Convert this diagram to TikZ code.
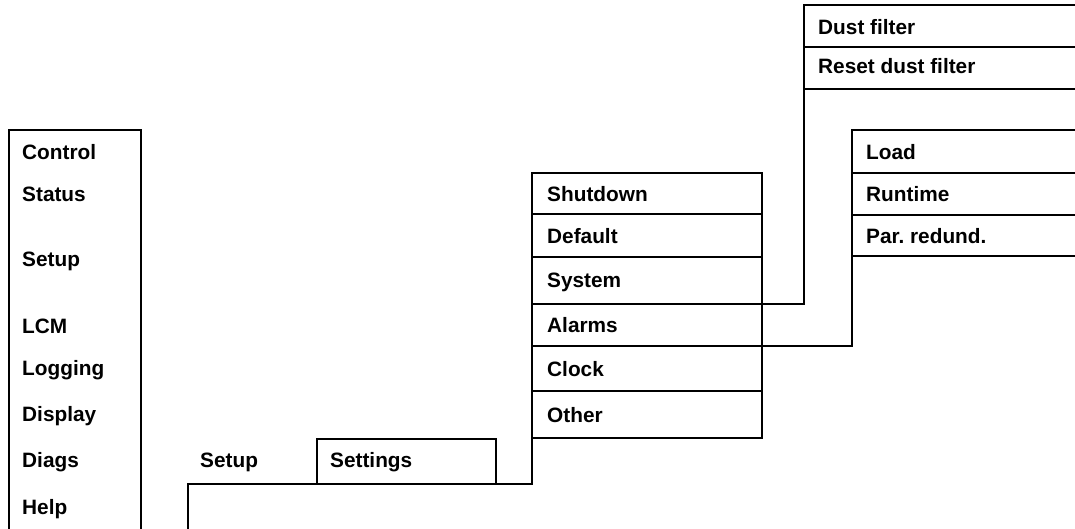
\documentclass[tikz,border=0pt]{standalone}
\usepackage{fontspec}
\setmainfont{Liberation Sans}
\frenchspacing
\begin{document}
\begin{tikzpicture}[x=1pt,y=-1pt,
  menuline/.style={line width=2pt, line join=miter},
  lbl/.style={anchor=base west, inner sep=0pt, font=\fontsize{20.8}{25}\selectfont\bfseries}]
\useasboundingbox (0,0) rectangle (1075,528);
% coordinates
\coordinate (mainBL) at (9,529);
\coordinate (mainTL) at (9,130);
\coordinate (mainTR) at (141,130);
\coordinate (mainBR) at (141,529);
\coordinate (setBL) at (317,484);
\coordinate (setTL) at (317,439);
\coordinate (setTR) at (496,439);
\coordinate (setBR) at (496,484);
\coordinate (baseS) at (188,529);
\coordinate (baseC) at (188,484);
\coordinate (colB) at (532,484);
\coordinate (colTL) at (532,173);
\coordinate (colTR) at (762,173);
\coordinate (colBR) at (762,438);
\coordinate (colBL) at (532,438);
\coordinate (sysR) at (762,304);
\coordinate (sysK) at (804,304);
\coordinate (dustT) at (804,5);
\coordinate (dustE) at (1076,5);
\coordinate (almR) at (762,346);
\coordinate (almK) at (852,346);
\coordinate (loadT) at (852,130);
\coordinate (loadE) at (1076,130);

% main menu
\draw[menuline] (mainBL) -- (mainTL) -- (mainTR) -- (mainBR);
\node[lbl] (control) at (22,159) {Control};
\node[lbl] (status) at (22,201) {Status};
\node[lbl] (setup) at (22,266) {Setup};
\node[lbl] (lcm) at (22,333) {LCM};
\node[lbl] (logging) at (22,375.5) {Logging};
\node[lbl] (display) at (22,421.5) {Display};
\node[lbl] (diags) at (22,467) {Diags};
\node[lbl] (help) at (22,514) {Help};

% setup / settings
\node[lbl] (setup2) at (200,467) {Setup};
\draw[menuline] (setBL) -- (setTL) -- (setTR) -- (setBR);
\node[lbl] (settings) at (330,467) {Settings};
\draw[menuline] (baseS) -- (baseC) -- (colB) -- (colTL) -- (colTR) -- (colBR) -- (colBL);
\foreach \yy in {214,257,304,346,391} \draw[menuline] (532,\yy) -- (762,\yy);
\node[lbl] (shutdown) at (547,201) {Shutdown};
\node[lbl] (default) at (547,243) {Default};
\node[lbl] (system) at (547,287) {System};
\node[lbl] (alarms) at (547,332.5) {Alarms};
\node[lbl] (clock) at (547,376) {Clock};
\node[lbl] (other) at (547,422) {Other};

% system submenu
\draw[menuline] (sysR) -- (sysK) -- (dustT) -- (dustE);
\foreach \yy in {47,89} \draw[menuline] (804,\yy) -- (1076,\yy);
\node[lbl] (dust) at (818,34.5) {Dust filter};
\node[lbl] (resetdust) at (818,73.5) {Reset dust filter};

% alarms submenu
\draw[menuline] (almR) -- (almK) -- (loadT) -- (loadE);
\foreach \yy in {173,215,256} \draw[menuline] (852,\yy) -- (1076,\yy);
\node[lbl] (load) at (866,159) {Load};
\node[lbl] (runtime) at (866,201) {Runtime};
\node[lbl] (parred) at (866,243) {Par.\ redund.};
\end{tikzpicture}
\end{document}
